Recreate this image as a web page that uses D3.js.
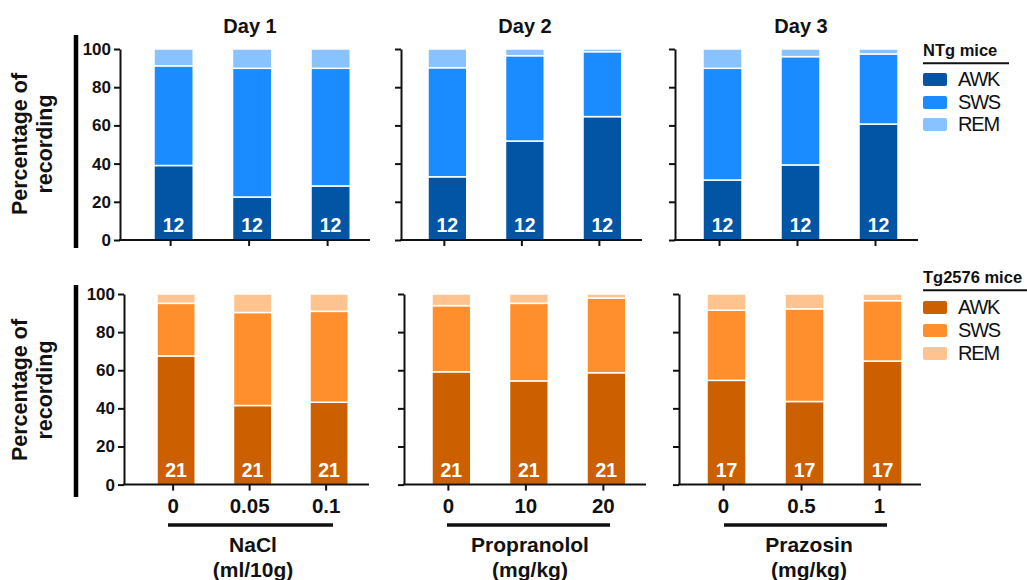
<!DOCTYPE html>
<html><head><meta charset="utf-8">
<script src="https://cdn.jsdelivr.net/npm/d3@7"></script>
<style>
body{margin:0;background:#fff}
svg{display:block}
text{font-family:"Liberation Sans",Arial,Helvetica,sans-serif}
</style>
</head><body>
<svg id="c" width="1027" height="580"></svg>
<script>
// ---------- data ----------
const doses = [["0","0.05","0.1"],["0","10","20"],["0","0.5","1"]];
const dayTitles = ["Day 1","Day 2","Day 3"];
const drugNames = ["NaCl","Propranolol","Prazosin"];
const drugUnits = ["(ml/10g)","(mg/kg)","(mg/kg)"];
const stages = ["AWK","SWS","REM"];
const yTicks = [0,20,40,60,80,100];
const yLabel = ["Percentage of","recording"];

// NTg mice (top row), one array per panel (Day 1..3), 3 doses each
const ntgAWK = [[39.0,22.5,28.3],[33.1,51.8,64.6],[31.4,39.3,60.7]];
const ntgSWS = [[52.2,67.4,61.6],[57.1,44.7,34.0],[58.5,56.7,36.7]];
const ntgREM = [[8.8,10.1,10.1],[9.8,3.5,1.4],[10.1,4.0,2.6]];
const ntgN   = [[12,12,12],[12,12,12],[12,12,12]];

// Tg2576 mice (bottom row)
const tgAWK = [[67.5,41.5,43.2],[59.2,54.4,58.7],[54.7,43.6,64.8]];
const tgSWS = [[27.6,48.8,47.7],[34.7,40.7,39.2],[36.8,48.6,31.7]];
const tgREM = [[4.9,9.7,9.1],[6.1,4.9,2.1],[8.5,7.8,3.5]];
const tgN   = [[21,21,21],[21,21,21],[17,17,17]];

const ntgColors = ["#0254A5","#1B8CFF","#88C2FF"];
const tgColors  = ["#CC6000","#FF8F2D","#FFC390"];
const legendTitles = ["NTg mice","Tg2576 mice"];

// ---------- layout ----------
const rowsLayout = [
  {y0:240, y100:49, axisX:[120,401,675], axisEnd:[370,642,918], firstBar:[154,428,703], step:[78.5,77.5,78],
   thick:[35,248], ylab:144, legY:55.7, legLineEnd:1009, swY:[73,96,118]},
  {y0:484.6, y100:294, axisX:[124,404,679], axisEnd:[369,646,921], firstBar:[157,432,707], step:[76.5,77.5,78],
   thick:[285,497], ylab:390, legY:282.7, legLineEnd:1027, swY:[301,324,347]}
];
const rowsData = [
  {awk:ntgAWK, sws:ntgSWS, rem:ntgREM, n:ntgN, colors:ntgColors},
  {awk:tgAWK, sws:tgSWS, rem:tgREM, n:tgN, colors:tgColors}
];
const FONT = '"Liberation Sans",Arial,Helvetica,sans-serif';
const svg = d3.select("#c");

rowsLayout.forEach((L, r) => {
  const D = rowsData[r];
  const y = d3.scaleLinear().domain([0,100]).range([L.y0, L.y100]);

  // thick left bar
  svg.append("line").attr("x1",76).attr("x2",76).attr("y1",L.thick[0]).attr("y2",L.thick[1])
    .attr("stroke","#000").attr("stroke-width",4.5);

  // y label
  yLabel.forEach((t,i) => {
    svg.append("text").attr("transform",`translate(${i===0?27:52},${L.ylab}) rotate(-90)`)
      .attr("text-anchor","middle").attr("font-size",21.5).attr("font-weight","bold").attr("fill","#111").text(t);
  });

  for (let p = 0; p < 3; p++) {
    const step = L.step[p];
    const r0 = L.firstBar[p] - 0.25*step;
    const x = d3.scaleBand().domain(doses[p]).range([r0, r0 + 3*step]).paddingInner(0.5).paddingOuter(0.25);
    const rows = doses[p].map((d,i) => ({dose:d, AWK:D.awk[p][i], SWS:D.sws[p][i], REM:D.rem[p][i], n:D.n[p][i]}));
    const series = d3.stack().keys(stages)(rows);
    const g = svg.append("g");

    series.forEach((s, si) => {
      g.selectAll(null).data(s).join("rect")
        .attr("x", d => x(d.data.dose))
        .attr("width", x.bandwidth())
        .attr("y", d => y(d[1]))
        .attr("height", d => y(d[0]) - y(d[1]))
        .attr("fill", D.colors[si])
        .attr("stroke","#fff").attr("stroke-width",1.5);
    });

    // n labels
    g.selectAll(null).data(rows).join("text")
      .attr("x", d => x(d.dose) + x.bandwidth()/2)
      .attr("y", L.y0 - 8)
      .attr("text-anchor","middle").attr("fill","#fff").attr("font-size",19.5).attr("font-weight","bold")
      .text(d => d.n);

    // y axis
    const ya = svg.append("g").attr("transform",`translate(${L.axisX[p]},0)`)
      .call(d3.axisLeft(y).tickValues(yTicks).tickSize(6).tickSizeOuter(0).tickPadding(3)
        .tickFormat(p === 0 ? d3.format("d") : () => ""));
    ya.attr("font-family", FONT).attr("font-size",17).attr("font-weight","bold");
    ya.selectAll("path,line").attr("stroke","#111").attr("stroke-width",2);
    ya.selectAll("text").attr("fill","#111");

    // x axis line
    svg.append("line").attr("x1",L.axisX[p]-1).attr("x2",L.axisEnd[p]).attr("y1",L.y0).attr("y2",L.y0)
      .attr("stroke","#111").attr("stroke-width",2);
    const xa = svg.append("g").attr("transform",`translate(-3,${L.y0})`)
      .call(d3.axisBottom(x).tickSize(6).tickSizeOuter(0).tickPadding(8)
        .tickFormat(r === 1 ? (d => d) : () => ""));
    xa.select(".domain").remove();
    xa.attr("font-family", FONT).attr("font-size",20.5).attr("font-weight","bold");
    xa.selectAll("line").attr("stroke","#111").attr("stroke-width",2);
    xa.selectAll("text").attr("fill","#111");

    if (r === 0) {
      svg.append("text").attr("x", [250,525,801][p]).attr("y",33).attr("text-anchor","middle")
        .attr("font-size",20).attr("font-weight","bold").attr("fill","#111").text(dayTitles[p]);
    } else {
      const ul = [[168,333],[447,610],[724,887]][p];
      svg.append("line").attr("x1",ul[0]).attr("x2",ul[1]).attr("y1",525).attr("y2",525)
        .attr("stroke","#111").attr("stroke-width",3.5);
      const cx = [253,530,809][p];
      svg.append("text").attr("x",cx).attr("y",552).attr("text-anchor","middle")
        .attr("font-size",21).attr("font-weight","bold").attr("fill","#111").text(drugNames[p]);
      svg.append("text").attr("x",cx).attr("y",577).attr("text-anchor","middle")
        .attr("font-size",21).attr("font-weight","bold").attr("fill","#111").text(drugUnits[p]);
    }
  }

  // legend
  svg.append("text").attr("x",923).attr("y",L.legY).attr("font-size",16.5).attr("font-weight","bold")
    .attr("fill","#111").text(legendTitles[r]);
  svg.append("line").attr("x1",923).attr("x2",L.legLineEnd).attr("y1",L.legY+7.5).attr("y2",L.legY+7.5)
    .attr("stroke","#111").attr("stroke-width",2);
  stages.forEach((s,i) => {
    svg.append("rect").attr("x",923).attr("y",L.swY[i]).attr("width",24).attr("height",13).attr("rx",2)
      .attr("fill",D.colors[i]);
    svg.append("text").attr("x",958).attr("y",L.swY[i]+13).attr("font-size",20)
      .attr("letter-spacing",-1.2).attr("fill","#111").text(s);
  });
});
</script>
</body></html>
